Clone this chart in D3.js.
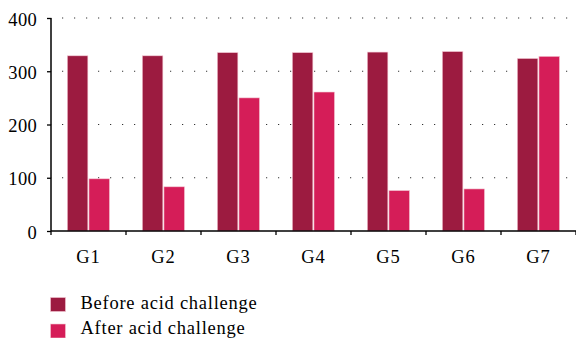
<!DOCTYPE html>
<html><head><meta charset="utf-8">
<script src="https://cdn.jsdelivr.net/npm/d3@7"></script>
<style>body{margin:0;background:#fff}svg{display:block}</style>
</head><body>
<script>
const categories = ["G1","G2","G3","G4","G5","G6","G7"];
const seriesNames = ["Before acid challenge","After acid challenge"];
const before = [329, 329, 335, 335, 336, 337, 324];
const after = [98, 83, 250, 261, 76, 79, 328];
const yTicks = [0,100,200,300,400];
const colors = ["#9c1b40","#d51d58"];

const W=576,H=338;
const svg=d3.select("body").append("svg").attr("width",W).attr("height",H);
const font="'Liberation Serif','Times New Roman',serif";
const x=d3.scaleBand().domain(categories).range([51,576]);
const y=d3.scaleLinear().domain([0,400]).range([231,18]);
const inner=d3.scaleBand().domain([0,1]).range([16.3,58.5]).paddingInner(0.05);

// grid
svg.append("g").selectAll("line").data(yTicks.slice(1)).join("line")
  .attr("x1",51).attr("x2",576).attr("y1",d=>y(d)).attr("y2",d=>y(d))
  .attr("stroke","#333").attr("stroke-width",1.2).attr("stroke-dasharray","1.2,10.8").attr("stroke-dashoffset",-11);

const data=categories.map((c,i)=>({c,v:[before[i],after[i]]}));
const g=svg.append("g");
g.selectAll("g").data(data).join("g").attr("transform",d=>`translate(${x(d.c)},0)`)
 .selectAll("rect").data(d=>d.v.map((v,k)=>({v,k}))).join("rect")
 .attr("x",d=>inner(d.k)).attr("width",inner.bandwidth())
 .attr("y",d=>y(d.v)).attr("height",d=>y(0)-y(d.v))
 .attr("fill",d=>colors[d.k]).attr("stroke","#f4c9d4").attr("stroke-width",0.6);

// axes
const ya=svg.append("g").attr("transform","translate(51,0)").call(d3.axisLeft(y).tickValues(yTicks).tickSize(4).tickPadding(10));
ya.selectAll("text").attr("dy","0.38em").attr("letter-spacing","0.3px");
const xa=svg.append("g").attr("transform","translate(0,231)").call(d3.axisBottom(x).tickSize(0));
xa.selectAll("g.tick text").attr("y",32).attr("dy",0).attr("letter-spacing","1px");
// band boundary ticks
xa.append("g").selectAll("line").data(d3.range(categories.length+1)).join("line")
  .attr("x1",i=>51+i*x.step()).attr("x2",i=>51+i*x.step()).attr("y1",0).attr("y2",4).attr("stroke","#000").attr("stroke-width",1.3);
[ya,xa].forEach(a=>{a.select(".domain").attr("stroke","#000").attr("stroke-width",1.5);
  a.selectAll("text").attr("font-family",font).attr("font-size",18.5).attr("fill","#000");
  a.selectAll(".tick line").attr("stroke","#000").attr("stroke-width",1.3);});
ya.select(".domain").attr("d","M0,231V18");
xa.select(".domain").attr("d","M51,0H576");

// legend
const lg=svg.append("g");
seriesNames.forEach((n,i)=>{
  lg.append("rect").attr("x",50.5).attr("y",297.5+i*26.5).attr("width",15).attr("height",14)
    .attr("fill",colors[i]).attr("stroke","#f4c9d4").attr("stroke-width",0.6);
  lg.append("text").attr("x",80.5).attr("y",309.3+i*25).text(n)
    .attr("font-family",font).attr("font-size",18.5).attr("letter-spacing","0.75px").attr("fill","#000");
});
</script>
</body></html>
